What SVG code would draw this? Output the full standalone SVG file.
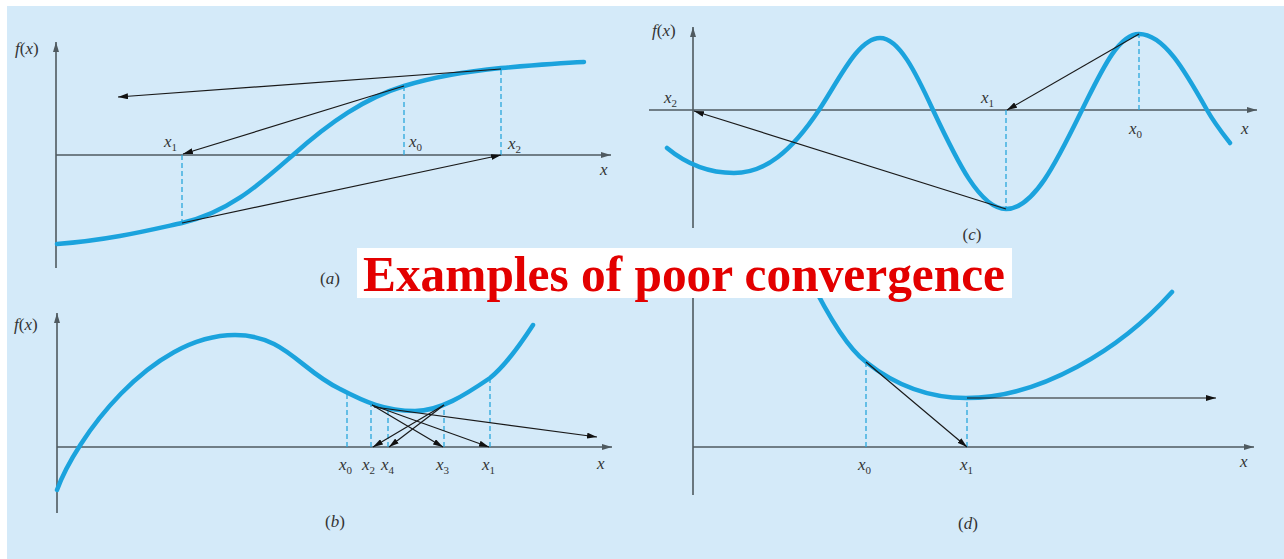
<svg xmlns="http://www.w3.org/2000/svg" width="1284" height="559" viewBox="0 0 1284 559">
  <style>
    .axis { stroke: #4f5a60; stroke-width: 1.6; fill: none; }
    .curve { stroke: #1ba3dd; stroke-width: 4.5; fill: none; stroke-linecap: round; stroke-linejoin: round; }
    .dash { stroke: #2aa7dc; stroke-width: 1.3; stroke-dasharray: 5 3; fill: none; }
    .tan { stroke: #1a1a1a; stroke-width: 1.2; fill: none; }
    .lbl { font-family: "Liberation Serif", "Times New Roman", serif; font-size: 17px; fill: #333; }
    .it { font-style: italic; }
    .sub { font-size: 11px; }
    .cap { font-family: "Liberation Serif", "Times New Roman", serif; font-size: 17px; fill: #333; text-anchor: middle; }
    .title { font-family: "Liberation Serif", "Times New Roman", serif; font-weight: bold; font-size: 50px; fill: #e30000; }
  </style>
  <defs>
    <marker id="ah" viewBox="0 0 10 6" refX="10" refY="3" markerWidth="10" markerHeight="6" markerUnits="userSpaceOnUse" orient="auto">
      <path d="M0,0 L10,3 L0,6 z" fill="#111"/>
    </marker>
    <marker id="axh" viewBox="0 0 10 6" refX="10" refY="3" markerWidth="10" markerHeight="6" markerUnits="userSpaceOnUse" orient="auto">
      <path d="M0,0 L10,3 L0,6 z" fill="#4f5a60"/>
    </marker>
  </defs>

  <rect x="0" y="0" width="1284" height="559" fill="#ffffff"/>
  <rect x="7" y="6" width="1277" height="553" fill="#d4eaf9"/>

  <!-- Panel (a) -->
  <g id="panel-a">
    <line class="axis" x1="56" y1="268" x2="56" y2="42" marker-end="url(#axh)"/>
    <line class="axis" x1="56" y1="155" x2="611" y2="155" marker-end="url(#axh)"/>
    <line class="dash" x1="182" y1="155" x2="182" y2="223"/>
    <line class="dash" x1="404" y1="155" x2="404" y2="86"/>
    <line class="dash" x1="501" y1="155" x2="501" y2="69"/>
    <path class="curve" d="M57,244 C110,240 150,230 182,223 C230,212 262,182 293,155 C330,122 365,98 404,86 C440,75 470,71 501,68 C535,65 560,63 584,62"/>
    <text class="lbl" x="15" y="54"><tspan class="it">f</tspan>(<tspan class="it">x</tspan>)</text>
    <text class="lbl" x="600" y="175"><tspan class="it">x</tspan></text>
    <text class="lbl" x="164" y="147"><tspan class="it">x</tspan><tspan class="sub" dy="4">1</tspan></text>
    <text class="lbl" x="409" y="147"><tspan class="it">x</tspan><tspan class="sub" dy="4">0</tspan></text>
    <text class="lbl" x="508" y="149"><tspan class="it">x</tspan><tspan class="sub" dy="4">2</tspan></text>
    <text class="cap" x="330" y="284">(<tspan class="it">a</tspan>)</text>
  </g>

  <!-- Panel (c) -->
  <g id="panel-c">
    <line class="axis" x1="693" y1="228" x2="693" y2="27" marker-end="url(#axh)"/>
    <line class="axis" x1="649" y1="110" x2="1257" y2="110" marker-end="url(#axh)"/>
    <line class="dash" x1="1006" y1="110" x2="1006" y2="209"/>
    <line class="dash" x1="1139" y1="110" x2="1139" y2="34"/>
    <path class="curve" d="M667,148 C684,162 705,173 734,173 C765,173 791,152 819,110 C839,80 858,38 880,38 C899,38 916,73 933,110 C957,161 980,209 1006,209 C1034,209 1057,161 1082,110 C1101,72 1118,34 1139,34 C1164,34 1185,71 1207,110 C1215,124 1223,134 1230,143"/>
    <text class="lbl" x="652" y="36"><tspan class="it">f</tspan>(<tspan class="it">x</tspan>)</text>
    <text class="lbl" x="1241" y="134"><tspan class="it">x</tspan></text>
    <text class="lbl" x="664" y="103"><tspan class="it">x</tspan><tspan class="sub" dy="4">2</tspan></text>
    <text class="lbl" x="981" y="103"><tspan class="it">x</tspan><tspan class="sub" dy="4">1</tspan></text>
    <text class="lbl" x="1129" y="134"><tspan class="it">x</tspan><tspan class="sub" dy="4">0</tspan></text>
    <text class="cap" x="972" y="240">(<tspan class="it">c</tspan>)</text>
  </g>

  <!-- Panel (b) -->
  <g id="panel-b">
    <line class="axis" x1="57" y1="513" x2="57" y2="313" marker-end="url(#axh)"/>
    <line class="axis" x1="57" y1="447" x2="612" y2="447" marker-end="url(#axh)"/>
    <line class="dash" x1="347" y1="447" x2="347" y2="393"/>
    <line class="dash" x1="371" y1="447" x2="371" y2="404"/>
    <line class="dash" x1="388" y1="447" x2="388" y2="409"/>
    <line class="dash" x1="444" y1="447" x2="444" y2="405"/>
    <line class="dash" x1="490" y1="447" x2="490" y2="378"/>
    <path class="curve" d="M57,490 C75,440 150,335 235,335 C285,335 300,370 340,389 C365,402 385,411 415,411 C440,411 465,395 490,378 C505,366 520,345 533,325"/>
    <text class="lbl" x="14" y="330"><tspan class="it">f</tspan>(<tspan class="it">x</tspan>)</text>
    <text class="lbl" x="597" y="469"><tspan class="it">x</tspan></text>
    <text class="lbl" x="339" y="470"><tspan class="it">x</tspan><tspan class="sub" dy="4">0</tspan></text>
    <text class="lbl" x="362" y="470"><tspan class="it">x</tspan><tspan class="sub" dy="4">2</tspan></text>
    <text class="lbl" x="381" y="470"><tspan class="it">x</tspan><tspan class="sub" dy="4">4</tspan></text>
    <text class="lbl" x="436" y="470"><tspan class="it">x</tspan><tspan class="sub" dy="4">3</tspan></text>
    <text class="lbl" x="482" y="470"><tspan class="it">x</tspan><tspan class="sub" dy="4">1</tspan></text>
    <text class="cap" x="335" y="527">(<tspan class="it">b</tspan>)</text>
  </g>

  <!-- Panel (d) -->
  <g id="panel-d">
    <line class="axis" x1="693" y1="495" x2="693" y2="280"/>
    <line class="axis" x1="693" y1="447" x2="1254" y2="447" marker-end="url(#axh)"/>
    <line class="dash" x1="866" y1="447" x2="866" y2="362"/>
    <line class="dash" x1="967" y1="447" x2="967" y2="398"/>
    <path class="curve" d="M808,275 C830,320 850,350 866,362 C895,385 930,398 966,398 C1040,398 1120,350 1172,292"/>
    <text class="lbl" x="1240" y="467"><tspan class="it">x</tspan></text>
    <text class="lbl" x="858" y="470"><tspan class="it">x</tspan><tspan class="sub" dy="4">0</tspan></text>
    <text class="lbl" x="960" y="470"><tspan class="it">x</tspan><tspan class="sub" dy="4">1</tspan></text>
    <text class="cap" x="968" y="529">(<tspan class="it">d</tspan>)</text>
  </g>

  <!-- Tangent connectors -->
  <g id="connectors">
    <line class="tan" x1="501" y1="69" x2="118" y2="97" marker-end="url(#ah)"/>
    <line class="tan" x1="404" y1="86" x2="183" y2="154" marker-end="url(#ah)"/>
    <line class="tan" x1="182" y1="223" x2="501" y2="155" marker-end="url(#ah)"/>
    <line class="tan" x1="1139" y1="34" x2="1007" y2="110" marker-end="url(#ah)"/>
    <line class="tan" x1="1006" y1="209" x2="694" y2="111" marker-end="url(#ah)"/>
    <line class="tan" x1="372" y1="405" x2="489" y2="447" marker-end="url(#ah)"/>
    <line class="tan" x1="372" y1="405" x2="443" y2="447" marker-end="url(#ah)"/>
    <line class="tan" x1="374" y1="407" x2="597" y2="437" marker-end="url(#ah)"/>
    <line class="tan" x1="444" y1="405" x2="373" y2="447" marker-end="url(#ah)"/>
    <line class="tan" x1="444" y1="405" x2="389" y2="447" marker-end="url(#ah)"/>
    <line class="tan" x1="866" y1="362" x2="967" y2="447" marker-end="url(#ah)"/>
    <line class="tan" x1="967" y1="398" x2="1216" y2="398" marker-end="url(#ah)"/>
  </g>

  <!-- Title banner -->
  <g id="title">
    <rect x="357" y="248" width="655" height="50" fill="#ffffff"/>
    <text class="title" x="363" y="291" textLength="642" lengthAdjust="spacingAndGlyphs">Examples of poor convergence</text>
  </g>
</svg>
